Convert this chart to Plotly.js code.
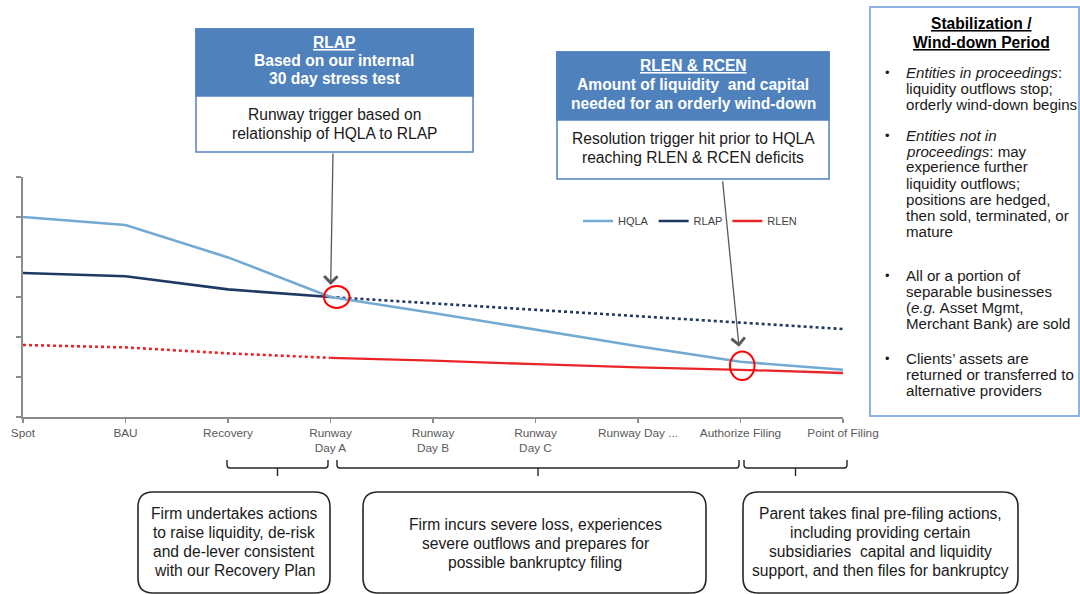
<!DOCTYPE html>
<html>
<head>
<meta charset="utf-8">
<script src="https://cdn.plot.ly/plotly-3.0.1.min.js"></script>
<style>html,body{margin:0;padding:0;background:#fff;}#chart{width:1080px;height:594px;}</style>
</head>
<body>
<div id="chart"></div>
<script>
// ---- data ----
const categories = ["Spot", "BAU", "Recovery", "Runway<br>Day A", "Runway<br>Day B", "Runway<br>Day C", "Runway Day ...", "Authorize Filing", "Point of Filing"];
const hqla = [5.0, 4.8, 3.99, 3.0, 2.6, 2.18, 1.77, 1.38, 1.18];
const rlapActual = [3.6, 3.52, 3.19, 3.0, null, null, null, null, null];
const rlapProjected = [null, null, null, 3.0, 2.84, 2.68, 2.52, 2.36, 2.2];
const rlenBefore = [1.8, 1.74, 1.59, 1.48, null, null, null, null, null];
const rlenAfter = [null, null, null, 1.48, 1.41, 1.32, 1.24, 1.18, 1.1];
const seriesNames = ["HQLA", "RLAP", "RLEN"];

const rlapHeader = ["<u>RLAP</u>", "Based on our internal", "30 day stress test"];
const rlapBody = ["Runway trigger based on", "relationship of HQLA to RLAP"];
const rlenHeader = ["<u>RLEN & RCEN</u>", "Amount of liquidity  and capital", "needed for an orderly wind-down"];
const rlenBody = ["Resolution trigger hit prior to HQLA", "reaching RLEN & RCEN deficits"];
const sideTitle = ["<u>Stabilization /</u>", "<u>Wind-down Period</u>"];
const sideBullets = [
  ["<i>Entities in proceedings</i>:", "liquidity outflows stop;", "orderly wind-down begins"],
  ["<i>Entities not in</i>", "<i>proceedings</i>: may", "experience further", "liquidity outflows;", "positions are hedged,", "then sold, terminated, or", "mature"],
  ["All or a portion of", "separable businesses", "(<i>e.g.</i> Asset Mgmt,", "Merchant Bank) are sold"],
  ["Clients’ assets are", "returned or transferred to", "alternative providers"]
];
const phase1 = ["Firm undertakes actions", "to raise liquidity, de-risk", "and de-lever consistent", "with our Recovery Plan"];
const phase2 = ["Firm incurs severe loss, experiences", "severe outflows and prepares for", "possible bankruptcy filing"];
const phase3 = ["Parent takes final pre-filing actions,", "including providing certain", "subsidiaries  capital and liquidity", "support, and then files for bankruptcy"];

// ---- layout helpers (pixel -> paper) ----
const L = 23, R = 843, TOP = 177, BOT = 417;
const FONT = "Liberation Sans, Arial, sans-serif";
const FS = 15.6;
const FS_SIDE = 15.1;
const px = x => (x - L) / (R - L);
const py = y => (BOT - y) / (BOT - TOP);

const shapes = [];
const annotations = [];

function rect(x0, y0, x1, y1, fill, color, width) {
  shapes.push({type: 'rect', xref: 'paper', yref: 'paper', layer: 'above',
    x0: px(x0), x1: px(x1), y0: py(y1), y1: py(y0),
    fillcolor: fill, line: {color: color, width: width}});
}
function path(d, color, width) {
  shapes.push({type: 'path', xref: 'paper', yref: 'paper', layer: 'above', path: d,
    line: {color: color, width: width}, fillcolor: 'rgba(0,0,0,0)'});
}
function P(x, y) { return px(x) + ',' + py(y); }
function roundRect(x0, y0, x1, y1, r) {
  const d = 'M' + P(x0 + r, y0) + ' L' + P(x1 - r, y0) + ' Q' + P(x1, y0) + ' ' + P(x1, y0 + r) +
    ' L' + P(x1, y1 - r) + ' Q' + P(x1, y1) + ' ' + P(x1 - r, y1) +
    ' L' + P(x0 + r, y1) + ' Q' + P(x0, y1) + ' ' + P(x0, y1 - r) +
    ' L' + P(x0, y0 + r) + ' Q' + P(x0, y0) + ' ' + P(x0 + r, y0) + ' Z';
  path(d, '#262626', 1.6);
}
function bracket(x0, x1, y0, y1, tick) {
  const c = (x0 + x1) / 2, r = 3;
  const d = 'M' + P(x0, y0) + ' L' + P(x0, y1 - r) + ' Q' + P(x0, y1) + ' ' + P(x0 + r, y1) +
    ' L' + P(x1 - r, y1) + ' Q' + P(x1, y1) + ' ' + P(x1, y1 - r) + ' L' + P(x1, y0) +
    ' M' + P(c, y1) + ' L' + P(c, y1 + tick);
  path(d, '#262626', 1.4);
}
function text(x, y, t, size, color, anchor, bold) {
  annotations.push({xref: 'paper', yref: 'paper', x: px(x), y: py(y), text: bold ? '<b>' + t + '</b>' : t,
    showarrow: false, xanchor: anchor || 'center', yanchor: 'middle', borderpad: 0,
    font: {family: FONT, size: size, color: color}});
}
function lines(arr, x, y0, step, size, color, anchor, bold) {
  arr.forEach((t, i) => text(x, y0 + i * step, t, size, color, anchor, bold));
}

// ---- callout boxes ----
rect(196, 29, 473, 152, '#ffffff', '#4f81bd', 1.5);
rect(196, 29, 473, 96, '#4f81bd', '#4f81bd', 1.5);
lines(rlapHeader, 334, 42, 18.5, FS, '#ffffff', 'center', true);
lines(rlapBody, 334, 114, 19, FS, '#1a1a1a');

rect(557, 52, 829, 179, '#ffffff', '#4f81bd', 1.5);
rect(557, 52, 829, 120, '#4f81bd', '#4f81bd', 1.5);
lines(rlenHeader, 693, 65, 19, FS, '#ffffff', 'center', true);
lines(rlenBody, 693, 139, 18.5, FS, '#1a1a1a');

// right side box
rect(870, 7, 1079, 416, '#ffffff', '#8db3e2', 2);
lines(sideTitle, 982, 23, 19, FS, '#000000', 'center', true);
const bulletStarts = [72, 135, 275, 358];
sideBullets.forEach((b, i) => {
  text(887, bulletStarts[i], '•', 13, '#1a1a1a');
  lines(b, 905, bulletStarts[i], 16, FS_SIDE, '#1a1a1a', 'left');
});

// brackets & phase boxes
bracket(227, 328, 460, 468, 8);
bracket(337, 739, 460, 468, 8);
bracket(744, 847, 460, 468, 8);
roundRect(138, 492, 330, 593, 15);
roundRect(363, 492, 706, 593, 15);
roundRect(743, 492, 1018, 593, 15);
lines(phase1, 234, 513, 19, FS, '#1a1a1a');
lines(phase2, 535, 524, 19, FS, '#1a1a1a');
lines(phase3, 880, 513, 19, FS, '#1a1a1a');

// ---- highlight circles around crossing points ----
shapes.push({type: 'circle', xref: 'x', yref: 'y', layer: 'above', xsizemode: 'pixel', ysizemode: 'pixel',
  xanchor: 3, yanchor: hqla[3], x0: -6.5, x1: 19, y0: -11, y1: 11,
  line: {color: '#ff0000', width: 2}});
shapes.push({type: 'circle', xref: 'x', yref: 'y', layer: 'above', xsizemode: 'pixel', ysizemode: 'pixel',
  xanchor: 7, yanchor: (hqla[7] + rlenAfter[7]) / 2, x0: -10.5, x1: 14, y0: -14.3, y1: 14.3,
  line: {color: '#ff0000', width: 2}});

// ---- arrows from the callouts ----
annotations.push({xref: 'x', yref: 'y', x: 3, y: rlapProjected[3], ax: 2.5, ay: -145, standoff: 12,
  showarrow: true, arrowhead: 4, arrowsize: 2, arrowwidth: 1.3, arrowcolor: '#595959', text: ''});
annotations.push({xref: 'x', yref: 'y', x: 7, y: hqla[7], ax: -18, ay: -182, standoff: 15,
  showarrow: true, arrowhead: 4, arrowsize: 2, arrowwidth: 1.3, arrowcolor: '#595959', text: ''});

// ---- traces ----
const colors = {HQLA: '#72aad2', RLAP: '#1f3864', RLEN: '#e8262a'};
const traces = [
  {x: categories, y: rlapProjected, name: seriesNames[1], mode: 'lines', line: {color: colors.RLAP, width: 2.6, dash: 'dot'}, showlegend: false, legendgroup: 'p'},
  {x: categories, y: rlenBefore, name: seriesNames[2], mode: 'lines', line: {color: colors.RLEN, width: 2.6, dash: 'dot'}, showlegend: false, legendgroup: 'e'},
  {x: categories, y: rlapActual, name: seriesNames[1], mode: 'lines', line: {color: colors.RLAP, width: 2.6}, legendgroup: 'p', legendrank: 2},
  {x: categories, y: rlenAfter, name: seriesNames[2], mode: 'lines', line: {color: colors.RLEN, width: 2.3}, legendgroup: 'e', legendrank: 3},
  {x: categories, y: hqla, name: seriesNames[0], mode: 'lines', line: {color: colors.HQLA, width: 2.6}, legendgroup: 'h', legendrank: 1}
];
traces.forEach(t => t.hoverinfo = 'skip');

const layout = {
  width: 1080, height: 594,
  margin: {l: L, r: 1080 - R, t: TOP, b: 594 - BOT, autoexpand: false},
  paper_bgcolor: '#ffffff', plot_bgcolor: '#ffffff',
  font: {family: FONT, color: '#595959', size: 12},
  showlegend: true,
  legend: {orientation: 'h', x: px(578), y: py(221), xanchor: 'left', yanchor: 'middle',
    bgcolor: 'rgba(0,0,0,0)', font: {size: 11, color: '#404040'}, traceorder: 'normal',
    itemwidth: 30, tracegroupgap: 0},
  xaxis: {type: 'category', categoryorder: 'array', categoryarray: categories, range: [0, 8],
    showline: true, linecolor: '#8c8c8c', linewidth: 1.6, ticks: 'outside', ticklen: 4, tickwidth: 1.4,
    tickcolor: '#8c8c8c', showgrid: false, zeroline: false, fixedrange: true,
    tickfont: {size: 11.8, color: '#595959', family: FONT}},
  yaxis: {range: [0, 6], tick0: 0, dtick: 1, showticklabels: false, showline: true, linecolor: '#8c8c8c',
    linewidth: 1.6, ticks: 'outside', ticklen: 5, tickwidth: 1.4, tickcolor: '#8c8c8c',
    showgrid: false, zeroline: false, fixedrange: true},
  shapes: shapes,
  annotations: annotations
};

Plotly.newPlot('chart', traces, layout, {staticPlot: true, displayModeBar: false});
</script>
</body>
</html>
